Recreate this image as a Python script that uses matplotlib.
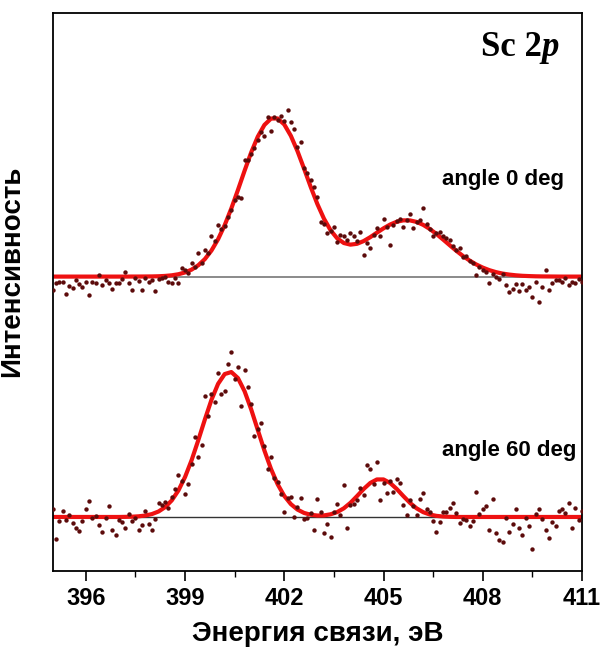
import numpy as np
import matplotlib
matplotlib.use('Agg')
import matplotlib.pyplot as plt
from matplotlib.ticker import MultipleLocator

plt.rcParams['font.family'] = ['Liberation Sans', 'DejaVu Sans']

# measured points, 0.1 eV step from 395 to 411 eV (arb. units, spectra offset)
top_counts = [
    50.4, 51.6, 51.8, 51.8, 49.7, 51.2, 50.8, 52.1, 51.4, 51.0,
    51.9, 49.5, 51.9, 51.6, 53.1, 51.3, 52.2, 51.6, 50.5, 51.7,
    51.6, 52.4, 53.7, 51.6, 50.4, 52.5, 52.0, 50.4, 52.5, 51.9,
    52.2, 50.2, 52.3, 52.5, 52.8, 51.9, 51.7, 52.6, 51.6, 54.3,
    53.9, 53.5, 55.2, 54.6, 57.0, 55.2, 57.6, 57.0, 60.0, 59.2,
    62.1, 61.4, 61.8, 63.5, 64.8, 66.5, 67.0, 66.8, 73.6, 73.7,
    74.8, 75.8, 77.2, 78.7, 78.0, 81.3, 78.9, 81.3, 80.9, 81.6,
    80.6, 82.6, 80.4, 79.2, 76.0, 76.9, 72.3, 71.4, 70.1, 68.9,
    67.1, 62.5, 62.3, 60.6, 61.0, 61.6, 59.0, 60.3, 60.1, 59.4,
    60.6, 60.0, 59.1, 60.7, 56.7, 58.9, 57.9, 60.2, 61.5, 60.0,
    63.1, 61.6, 58.4, 62.0, 62.7, 63.2, 61.6, 62.9, 64.0, 61.5,
    62.5, 62.9, 65.0, 62.2, 61.3, 60.0, 60.6, 60.7, 60.0, 59.7,
    59.4, 58.2, 57.6, 57.9, 56.3, 56.4, 55.6, 55.2, 53.1, 54.6,
    53.9, 53.7, 51.7, 53.2, 52.8, 52.3, 53.3, 51.3, 50.1, 50.5,
    51.4, 50.2, 51.5, 50.4, 51.0, 49.1, 51.9, 48.3, 51.0, 54.0,
    50.4, 51.7, 52.2, 52.2, 51.9, 52.6, 51.3, 51.9, 51.6, 52.4,
    51.8,
]
bottom_counts = [
    11.2, 5.9, 9.1, 10.8, 9.3, 10.1, 8.7, 7.7, 7.3, 9.0,
    11.1, 12.7, 9.6, 10.0, 8.3, 7.0, 9.5, 11.7, 7.4, 6.6,
    9.2, 8.8, 7.7, 10.3, 9.0, 9.6, 7.5, 8.4, 10.8, 8.5,
    7.5, 9.4, 12.2, 11.9, 12.4, 11.4, 13.3, 14.7, 17.3, 16.2,
    13.8, 15.6, 19.2, 24.1, 20.5, 22.6, 31.4, 27.8, 31.7, 30.3,
    35.6, 31.7, 32.3, 37.2, 39.3, 34.5, 36.7, 29.6, 36.0, 33.1,
    29.9, 24.2, 25.6, 26.5, 22.4, 18.4, 20.5, 16.7, 16.1, 13.8,
    10.7, 13.1, 13.4, 9.8, 11.6, 13.2, 9.4, 9.6, 10.4, 7.4,
    12.9, 10.6, 6.9, 8.5, 6.2, 10.7, 12.0, 10.1, 15.5, 7.7,
    11.9, 12.0, 12.8, 14.9, 13.7, 19.1, 18.3, 15.7, 19.6, 12.8,
    15.8, 14.1, 16.2, 14.3, 16.5, 15.8, 11.9, 10.2, 12.8, 11.7,
    10.2, 13.0, 14.1, 11.2, 10.6, 9.0, 7.1, 8.8, 10.6, 10.6,
    11.4, 12.2, 10.4, 8.6, 9.4, 9.2, 8.1, 9.0, 14.3, 10.3,
    11.1, 11.7, 7.4, 12.9, 6.9, 5.7, 5.3, 9.5, 7.1, 8.5,
    11.1, 7.7, 6.5, 9.5, 8.2, 4.1, 10.3, 11.1, 9.4, 7.5,
    6.0, 8.9, 8.1, 10.9, 11.2, 10.4, 12.2, 7.7, 11.3, 9.2,
    10.8,
]

# fitted envelopes, 0.2 eV step from 395 to 411 eV
top_fit = [
    52.8, 52.8, 52.8, 52.8, 52.8, 52.8, 52.8, 52.8, 52.8, 52.8,
    52.8, 52.8, 52.81, 52.81, 52.82, 52.83, 52.86, 52.92, 53.03, 53.22,
    53.54, 54.05, 54.82, 55.93, 57.47, 59.49, 62.02, 65.00, 68.31, 71.74,
    75.03, 77.86, 79.95, 81.09, 81.11, 80.04, 78.00, 75.26, 72.10, 68.85,
    65.80, 63.17, 61.10, 59.65, 58.81, 58.52, 58.67, 59.16, 59.86, 60.66,
    61.44, 62.12, 62.62, 62.87, 62.86, 62.59, 62.06, 61.32, 60.43, 59.44,
    58.42, 57.42, 56.50, 55.68, 54.98, 54.41, 53.95, 53.60, 53.34, 53.16,
    53.03, 52.94, 52.89, 52.85, 52.83, 52.82, 52.81, 52.8, 52.8, 52.8,
    52.8,
]
bottom_fit = [
    9.76, 9.76, 9.76, 9.76, 9.76, 9.76, 9.76, 9.76, 9.76, 9.76,
    9.76, 9.78, 9.81, 9.88, 10.02, 10.28, 10.74, 11.52, 12.73, 14.50,
    16.90, 19.94, 23.48, 27.21, 30.74, 33.60, 35.35, 35.71, 34.63, 32.28,
    29.03, 25.34, 21.66, 18.35, 15.62, 13.53, 12.06, 11.08, 10.48, 10.16,
    10.02, 10.04, 10.24, 10.63, 11.31, 12.29, 13.50, 14.77, 15.85, 16.48,
    16.48, 15.85, 14.77, 13.50, 12.29, 11.31, 10.62, 10.20, 9.96, 9.84,
    9.79, 9.76, 9.76, 9.76, 9.76, 9.76, 9.76, 9.76, 9.76, 9.76,
    9.76, 9.76, 9.76, 9.76, 9.76, 9.76, 9.76, 9.76, 9.76, 9.76,
    9.76,
]
baselines = [52.8, 9.76]
labels = ['angle 0 deg', 'angle 60 deg']

energy = np.linspace(395, 411, len(top_counts))
fit_energy = np.linspace(395, 411, len(top_fit))

fig = plt.figure(figsize=(6.0, 6.55), dpi=100)
ax = fig.add_axes([0.0878, 0.1275, 0.8822, 0.8527])

ax.axhline(baselines[0], color='#8a8a8a', lw=1.4, zorder=1)
ax.axhline(baselines[1], color='#333333', lw=1.0, zorder=1)

for counts, fit in [(top_counts, top_fit), (bottom_counts, bottom_fit)]:
    ax.plot(fit_energy, fit, color='#ee1111', lw=3.0, zorder=2)
    ax.scatter(energy, counts, s=10, color='#5c0b0b', zorder=3, linewidths=0)

ax.text(0.7355, 0.701, labels[0], transform=ax.transAxes, fontsize=16,
        fontweight='bold', ha='left', va='center')
ax.text(0.7355, 0.216, labels[1], transform=ax.transAxes, fontsize=16,
        fontweight='bold', ha='left', va='center')

# "Sc 2p" with italic p
serif = dict(transform=ax.transAxes, fontsize=25, fontweight='bold',
             family='Liberation Serif', va='baseline')
ax.text(0.9244, 0.9236, 'Sc 2', ha='right', **serif)
ax.text(0.9244, 0.9236, 'p', ha='left', style='italic', **serif)

ax.set_xlim(395, 411)
ax.set_ylim(0, 100)
ax.set_xticks([396, 399, 402, 405, 408, 411])
ax.xaxis.set_minor_locator(MultipleLocator(1.5))
ax.tick_params(axis='x', which='major', direction='out', length=7, width=1.2,
               labelsize=17, pad=4)
ax.tick_params(axis='x', which='minor', direction='out', length=4, width=1.0)
for t in ax.get_xticklabels():
    t.set_fontweight('bold')
ax.set_yticks([])
for s in ax.spines.values():
    s.set_linewidth(1.3)

ax.set_xlabel('Энергия связи, эВ', fontsize=20, fontweight='bold', labelpad=8)
ax.set_ylabel('Интенсивность', fontsize=20, fontweight='bold')
ax.yaxis.set_label_coords(-0.052, 0.538)

fig.savefig('out.png', dpi=100)
